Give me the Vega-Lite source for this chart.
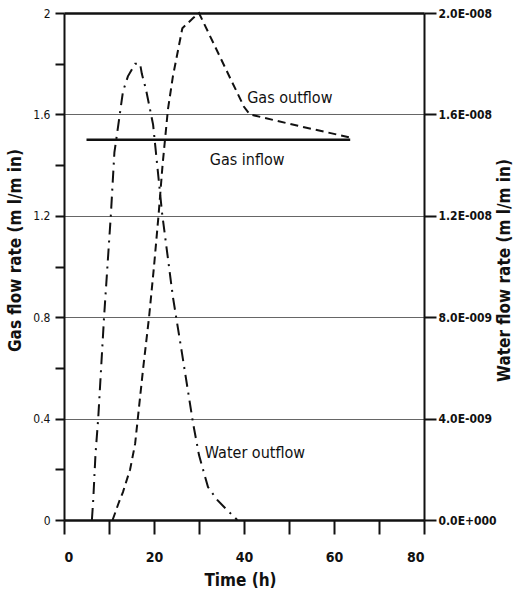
{
  "$schema": "https://vega.github.io/schema/vega-lite/v6.json",
  "autosize": {"type": "none"},
  "padding": {"left": 64, "top": 13, "right": 91, "bottom": 73},
  "width": 360,
  "height": 507,
  "background": "white",
  "config": {
    "view": {"stroke": null},
    "font": "DejaVu Sans Condensed, Liberation Sans, sans-serif",
    "axis": {"labelFont": "DejaVu Sans Condensed, Liberation Sans, sans-serif", "titleFont": "DejaVu Sans Condensed, Liberation Sans, sans-serif", "labelColor": "#111", "titleColor": "#111", "domainColor": "#111", "tickColor": "#111", "ticks": true}
  },
  "datasets": {
    "gas": [
      {"series": "outflow", "time": 10.8, "rate": 0},
      {"series": "outflow", "time": 12.2, "rate": 0.07},
      {"series": "outflow", "time": 13.1, "rate": 0.11},
      {"series": "outflow", "time": 14.7, "rate": 0.2},
      {"series": "outflow", "time": 15.8, "rate": 0.3},
      {"series": "outflow", "time": 16.4, "rate": 0.4},
      {"series": "outflow", "time": 17.6, "rate": 0.6},
      {"series": "outflow", "time": 18.9, "rate": 0.8},
      {"series": "outflow", "time": 20.0, "rate": 1.0},
      {"series": "outflow", "time": 21.0, "rate": 1.2},
      {"series": "outflow", "time": 21.9, "rate": 1.4},
      {"series": "outflow", "time": 23.1, "rate": 1.62},
      {"series": "outflow", "time": 24.2, "rate": 1.75},
      {"series": "outflow", "time": 26.3, "rate": 1.94},
      {"series": "outflow", "time": 28.7, "rate": 1.98},
      {"series": "outflow", "time": 30.0, "rate": 2.0},
      {"series": "outflow", "time": 36.2, "rate": 1.77},
      {"series": "outflow", "time": 40.0, "rate": 1.63},
      {"series": "outflow", "time": 41.3, "rate": 1.6},
      {"series": "outflow", "time": 52.0, "rate": 1.555},
      {"series": "outflow", "time": 63.3, "rate": 1.51},
      {"series": "inflow", "time": 5.0, "rate": 1.5},
      {"series": "inflow", "time": 63.6, "rate": 1.5}
    ],
    "water": [
      {"time": 6.2, "water": 0},
      {"time": 6.5, "water": 8e-10},
      {"time": 7.0, "water": 2.6e-9},
      {"time": 7.6, "water": 4e-9},
      {"time": 8.9, "water": 8e-9},
      {"time": 10.4, "water": 1.2e-8},
      {"time": 11.2, "water": 1.45e-8},
      {"time": 12.0, "water": 1.55e-8},
      {"time": 13.1, "water": 1.69e-8},
      {"time": 14.2, "water": 1.75e-8},
      {"time": 15.8, "water": 1.8e-8},
      {"time": 16.9, "water": 1.8e-8},
      {"time": 17.3, "water": 1.76e-8},
      {"time": 18.2, "water": 1.7e-8},
      {"time": 19.8, "water": 1.56e-8},
      {"time": 20.2, "water": 1.49e-8},
      {"time": 21.8, "water": 1.21e-8},
      {"time": 24.2, "water": 8.8e-9},
      {"time": 26.2, "water": 6.6e-9},
      {"time": 28.7, "water": 3.8e-9},
      {"time": 30.0, "water": 2.56e-9},
      {"time": 32.0, "water": 1.3e-9},
      {"time": 34.0, "water": 8e-10},
      {"time": 36.2, "water": 4e-10},
      {"time": 38.5, "water": 0}
    ],
    "labels": [
      {"label": "Gas outflow", "time": 40.7, "rate": 1.665},
      {"label": "Gas inflow", "time": 32.4, "rate": 1.42},
      {"label": "Water outflow", "time": 31.3, "rate": 0.264}
    ]
  },
  "layer": [
    {
      "layer": [
        {
          "data": {"name": "gas"},
          "transform": [{"filter": "datum.series == 'outflow'"}],
          "mark": {"type": "line", "color": "#111", "strokeWidth": 2, "strokeDash": [8, 5]},
          "encoding": {
            "x": {"field": "time", "type": "quantitative", "scale": {"domain": [0, 80], "nice": false},
              "axis": {"title": "Time (h)", "values": [0, 10, 20, 30, 40, 50, 60, 70, 80],
                "labelExpr": "datum.value % 20 == 0 ? datum.label : ''",
                "ticks": true, "tickColor": "#111",
                "tickSize": 14,
                "tickWidth": 2, "domainWidth": 2.5, "labelPadding": 16, "labelFontSize": 14, "labelFontWeight": "bold",
                "titleFontSize": 17, "titleFontWeight": "bold", "titleX": 176, "titleY": 60, "titleBaseline": "middle", "grid": false}},
            "y": {"field": "rate", "type": "quantitative", "scale": {"domain": [0, 2], "nice": false},
              "axis": {"title": "Gas flow rate (m l/m in)", "orient": "left", "format": "~g",
                "values": [0, 0.2, 0.4, 0.6, 0.8, 1, 1.2, 1.4, 1.6, 1.8, 2],
                "labelExpr": "round(datum.value*10) % 4 == 0 ? datum.label : ''",
                "ticks": true, "tickColor": "#111",
                "tickSize": 9,
                "tickWidth": 2, "domainWidth": 2, "labelPadding": 5, "labelFontSize": 12,
                "grid": true,
                "gridOpacity": {"condition": {"test": "round(datum.value*10) % 4 == 0", "value": 1}, "value": 0},
                "gridWidth": {"condition": {"test": "datum.value > 1.99", "value": 2.5}, "value": 1},
                "gridColor": {"condition": {"test": "datum.value > 1.99", "value": "#111"}, "value": "#666"},
                "titleFontSize": 17, "titleFontWeight": "bold", "titleAngle": -90, "titleX": -49, "titleY": 237, "titleBaseline": "middle", "titleAlign": "center"}}
          }
        },
        {
          "data": {"name": "gas"},
          "transform": [{"filter": "datum.series == 'inflow'"}],
          "mark": {"type": "line", "color": "#111", "strokeWidth": 2.5},
          "encoding": {
            "x": {"field": "time", "type": "quantitative"},
            "y": {"field": "rate", "type": "quantitative"}
          }
        },
        {
          "data": {"name": "labels"},
          "mark": {"type": "text", "align": "left", "baseline": "middle", "fontSize": 16, "font": "DejaVu Sans Condensed, Liberation Sans, sans-serif", "color": "#111"},
          "encoding": {
            "x": {"field": "time", "type": "quantitative"},
            "y": {"field": "rate", "type": "quantitative"},
            "text": {"field": "label"}
          }
        }
      ]
    },
    {
      "data": {"name": "water"},
      "mark": {"type": "line", "color": "#111", "strokeWidth": 2, "strokeDash": [12, 6, 2, 6]},
      "encoding": {
        "x": {"field": "time", "type": "quantitative"},
        "y": {"field": "water", "type": "quantitative", "scale": {"domain": [0, 2e-8], "nice": false},
          "axis": {"title": "Water flow rate (m l/m in)", "orient": "right",
            "values": [0, 4e-9, 8e-9, 1.2e-8, 1.6e-8, 2e-8],
            "labelExpr": "datum.value < 1e-12 ? '0.0E+000' : upper(slice(format(datum.value, '.1e'), 0, 4)) + '-00' + slice(format(datum.value, '.1e'), 5)",
            "ticks": true, "tickColor": "#111",
            "tickSize": 12, "tickWidth": 2, "domainWidth": 2, "labelPadding": 2, "labelFontSize": 12, "labelFontWeight": "bold",
            "grid": false,
            "titleFontSize": 17, "titleFontWeight": "bold", "titleAngle": -90, "titleX": 80, "titleY": 257, "titleBaseline": "middle", "titleAlign": "center"}}
      }
    }
  ],
  "resolve": {"scale": {"y": "independent"}}
}
